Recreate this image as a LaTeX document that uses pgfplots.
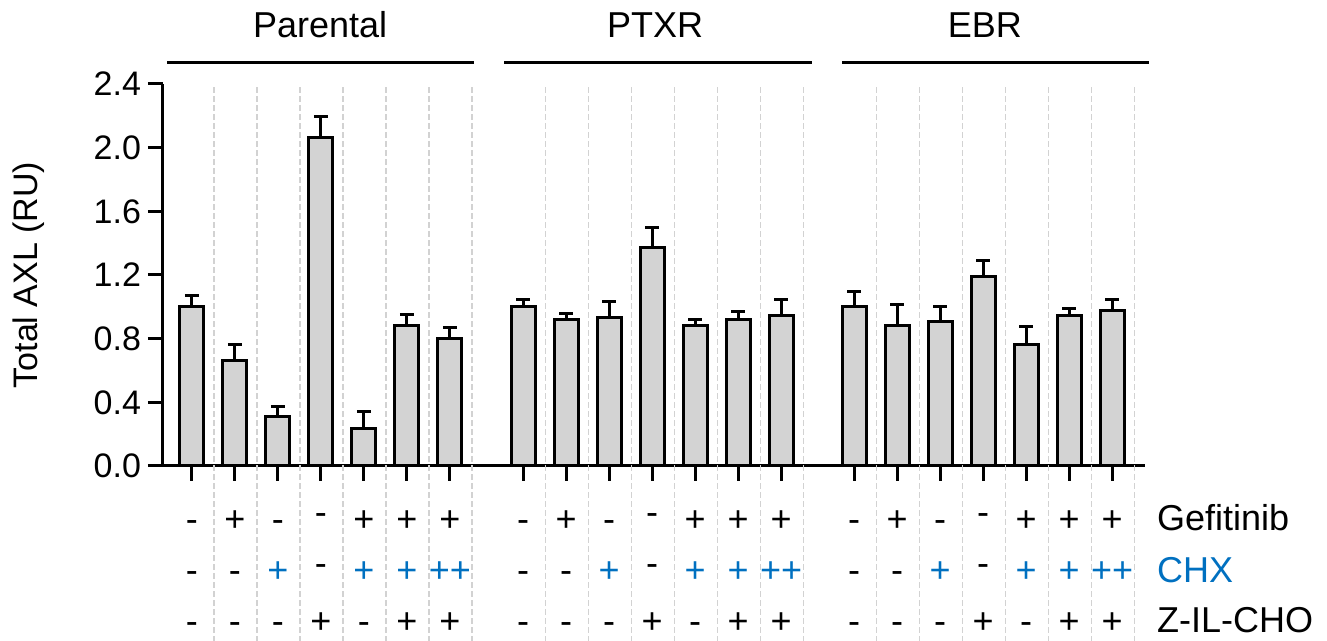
\documentclass[border=0pt]{standalone}
\usepackage{pgfplots}
\usepackage{pgfplotstable}
\usepackage{fontspec}
\setmainfont{Liberation Sans}
\pgfplotsset{compat=1.18}

\definecolor{barfill}{HTML}{D3D3D3}
\definecolor{chxblue}{HTML}{0070C0}
\definecolor{gridgray}{HTML}{D2D2D2}

% mean and SEM (upper) for each cell line; x = bar position
\pgfplotstableread{
x    mean   err
0    1.00   0.070
1    0.665  0.100
2    0.310  0.065
3    2.065  0.130
4    0.235  0.110
5    0.885  0.065
6    0.800  0.068
}\parental
\pgfplotstableread{
x     mean   err
7.7   1.000  0.045
8.7   0.920  0.037
9.7   0.935  0.100
10.7  1.370  0.128
11.7  0.880  0.040
12.7  0.920  0.048
13.7  0.945  0.098
}\ptxr
\pgfplotstableread{
x     mean   err
15.4  1.000  0.095
16.4  0.885  0.130
17.4  0.905  0.098
18.4  1.190  0.098
19.4  0.765  0.113
20.4  0.945  0.042
21.4  0.975  0.070
}\ebr

% treatment table under each bar: Gefitinib / CHX / Z-IL-CHO
\newcommand\up{\raisebox{3.5pt}{-}}
\newcommand\cx[1]{\textcolor{chxblue}{#1}}
\newcommand\col[3]{\strut#1\\\strut#2\\\strut#3}

\pgfplotsset{
  axlbar/.style={draw=black, fill=barfill, line width=1.5pt, bar shift=0pt,
    error bars/.cd, y dir=plus, y explicit,
    error bar style={line width=1.5pt, black},
    error mark options={rotate=90, line width=1.5pt, black, mark size=3.5pt}},
}

\begin{document}
\begin{tikzpicture}
\useasboundingbox (-81.5pt,-87.5pt) rectangle (582pt,233pt);
\begin{axis}[
  at={(0pt,0pt)}, anchor=south west,
  scale only axis,
  width=490.9pt, height=191pt,
  xmin=-0.674, xmax=22.16,
  ymin=0, ymax=2.4,
  enlargelimits=false,
  clip=false,
  axis x line*=bottom,
  axis y line*=left,
  axis line style={line width=1.5pt, black},
  tick align=outside,
  major tick length=7.5pt,
  tick style={line width=1.5pt, black},
  ytick={0,0.4,...,2.4},
  yticklabel style={font=\fontsize{17}{20}\selectfont,
    /pgf/number format/.cd, fixed, fixed zerofill, precision=1, assume math mode=true},
  xtick={0,1,2,3,4,5,6,7.7,8.7,9.7,10.7,11.7,12.7,13.7,15.4,16.4,17.4,18.4,19.4,20.4,21.4},
  xticklabels={
    {\col{-}{-}{-}},{\col{+}{-}{-}},{\col{-}{\cx{+}}{-}},{\col{\up}{\up}{+}},
    {\col{+}{\cx{+}}{-}},{\col{+}{\cx{+}}{+}},{\col{+}{\cx{++}}{+}},
    {\col{-}{-}{-}},{\col{+}{-}{-}},{\col{-}{\cx{+}}{-}},{\col{\up}{\up}{+}},
    {\col{+}{\cx{+}}{-}},{\col{+}{\cx{+}}{+}},{\col{+}{\cx{++}}{+}},
    {\col{-}{-}{-}},{\col{+}{-}{-}},{\col{-}{\cx{+}}{-}},{\col{\up}{\up}{+}},
    {\col{+}{\cx{+}}{-}},{\col{+}{\cx{+}}{+}},{\col{+}{\cx{++}}{+}}},
  xticklabel style={font=\fontsize{18}{25.5}\selectfont, align=center,
    anchor=north, yshift=-4pt},
  ylabel={Total AXL (RU)},
  ylabel style={font=\fontsize{17}{20}\selectfont,
    at={(axis description cs:-0.1365,0.5)}, anchor=center},
  ybar, bar width=12pt,
]
\addplot[axlbar] table[x=x, y=mean, y error=err] {\parental};
\addplot[axlbar] table[x=x, y=mean, y error=err] {\ptxr};
\addplot[axlbar] table[x=x, y=mean, y error=err] {\ebr};

% dashed separators to the right of each bar
\pgfplotsinvokeforeach{0.52,1.52,2.52,3.52,4.52,5.52,6.52,
  8.22,9.22,10.22,11.22,12.22,13.22,14.22,
  15.92,16.92,17.92,18.92,19.92,20.92,21.92}{
  \draw[gridgray, line width=0.9pt, dash pattern=on 3pt off 1.5pt]
    (axis cs:#1,2.38) -- (axis cs:#1,-1.1);
}

% cell-line headers
\draw[line width=1.5pt] (axis cs:-0.58,2.533) -- (axis cs:6.56,2.533);
\draw[line width=1.5pt] (axis cs:7.26,2.533) -- (axis cs:14.42,2.533);
\draw[line width=1.5pt] (axis cs:15.12,2.533) -- (axis cs:22.26,2.533);
\node[anchor=base, font=\fontsize{18}{21}\selectfont] at (axis cs:2.98,2.69) {Parental};
\node[anchor=base, font=\fontsize{18}{21}\selectfont] at (axis cs:10.77,2.69) {PTXR};
\node[anchor=base, font=\fontsize{18}{21}\selectfont] at (axis cs:18.44,2.69) {EBR};

% treatment row names
\node[anchor=base west, font=\fontsize{18}{21}\selectfont] at (axis cs:22.28,-0.408) {Gefitinib};
\node[anchor=base west, font=\fontsize{18}{21}\selectfont, text=chxblue] at (axis cs:22.28,-0.729) {CHX};
\node[anchor=base west, font=\fontsize{18}{21}\selectfont] at (axis cs:22.28,-1.049) {Z-IL-CHO};
\end{axis}
\end{tikzpicture}
\end{document}
